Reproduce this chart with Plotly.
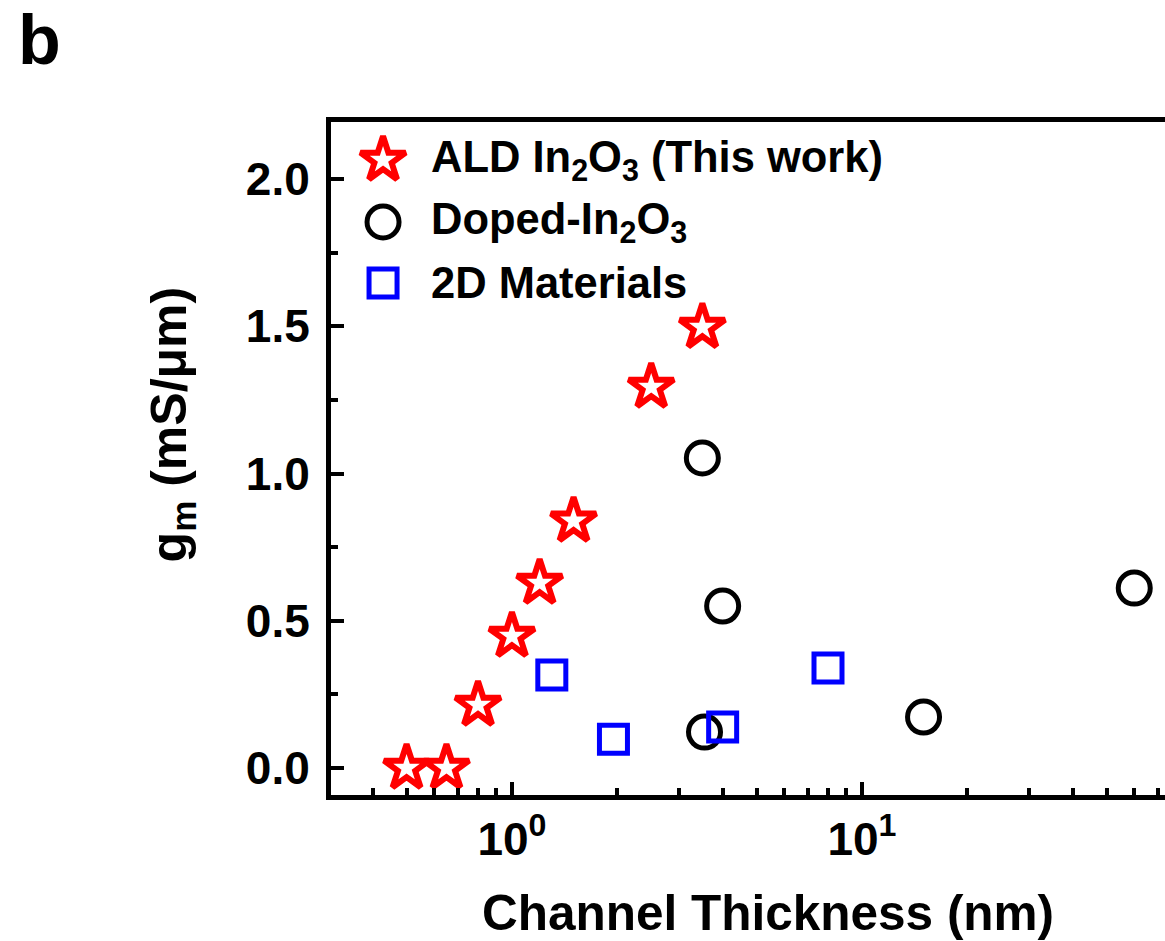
import plotly.graph_objects as go

# ---- data ----
ald_x = [0.5, 0.65, 0.8, 1.0, 1.2, 1.5, 2.5, 3.5]
ald_y = [0.0, 0.0, 0.214, 0.448, 0.628, 0.839, 1.294, 1.497]

doped_x = [3.5, 4.0, 3.55, 15.0, 60.0]
doped_y = [1.053, 0.55, 0.122, 0.173, 0.611]

mat2d_x = [1.3, 1.95, 4.0, 8.0]
mat2d_y = [0.316, 0.098, 0.139, 0.34]

series_names = ["ALD In<sub>2</sub>O<sub>3</sub> (This work)",
                "Doped-In<sub>2</sub>O<sub>3</sub>",
                "2D Materials"]

x_tickvals = [1, 10]
x_ticktext = ["10<sup>0</sup>", "10<sup>1</sup>"]
x_minor_vals = [0.3, 0.4, 0.5, 0.6, 0.7, 0.8, 0.9,
                2, 3, 4, 5, 6, 7, 8, 9,
                20, 30, 40, 50, 60, 70]

FONT = "Liberation Sans, Arial, sans-serif"
RED = "#FF0000"
BLACK = "#000000"
BLUE = "#0000FF"

styles = [
    dict(symbol="star-open", size=34, color=RED, line=dict(color=RED, width=6)),
    dict(symbol="circle-open", size=32, color=BLACK, line=dict(color=BLACK, width=5)),
    dict(symbol="square-open", size=28, color=BLUE, line=dict(color=BLUE, width=5)),
]

fig = go.Figure()
for (xs, ys), name, st in zip([(ald_x, ald_y), (doped_x, doped_y), (mat2d_x, mat2d_y)],
                              series_names, styles):
    fig.add_trace(go.Scatter(x=xs, y=ys, mode="markers", name=name,
                             marker=st, showlegend=False, cliponaxis=False))

# custom legend (markers on an overlay axis in [0,1] units, text as annotations)
leg_x = 0.0624
leg_text_x = 0.117
leg_y = [0.9435, 0.8514, 0.7608]
for name, st, yy in zip(series_names, styles, leg_y):
    fig.add_trace(go.Scatter(x=[leg_x], y=[yy], mode="markers", marker=st,
                             xaxis="x2", yaxis="y2", showlegend=False,
                             hoverinfo="skip", cliponaxis=False))
    fig.add_annotation(x=leg_text_x, y=yy, xref="paper", yref="paper",
                       text=name, showarrow=False, xanchor="left", yanchor="middle",
                       font=dict(family=FONT, size=43.5, color="black", weight="bold"))

# x-axis title
fig.add_annotation(x=0.524, y=-0.175, xref="paper", yref="paper",
                   text="Channel Thickness (nm)", showarrow=False,
                   xanchor="center", yanchor="middle",
                   font=dict(family=FONT, size=49.5, color="black", weight="bold"))
# y-axis title
fig.add_annotation(x=-0.19, y=0.55, xref="paper", yref="paper",
                   text="g<sub>m</sub> (mS/\u03bcm)", showarrow=False, textangle=-90,
                   xanchor="center", yanchor="middle",
                   font=dict(family=FONT, size=50, color="black", weight="bold"))
# panel label
fig.add_annotation(x=-0.3495, y=1.1813, xref="paper", yref="paper",
                   text="b", showarrow=False, xanchor="center", yanchor="top",
                   borderpad=0,
                   font=dict(family=FONT, size=70, color="black", weight="bold"))

fig.update_layout(
    width=1165, height=941,
    margin=dict(l=331, r=0, t=122, b=146),
    paper_bgcolor="white", plot_bgcolor="white",
    xaxis=dict(type="log", range=[-0.517, 1.866],
               tickmode="array", tickvals=x_tickvals, ticktext=x_ticktext,
               ticks="inside", ticklen=13, tickwidth=4, tickcolor="black",
               showline=True, linewidth=5, linecolor="black", mirror=True,
               showgrid=False, zeroline=False,
               tickfont=dict(family=FONT, size=46, color="black", weight="bold"),
               minor=dict(tickmode="array", tickvals=x_minor_vals, ticks="inside",
                          ticklen=7, tickwidth=4, tickcolor="black", showgrid=False)),
    yaxis=dict(range=[-0.0917, 2.194], tick0=0, dtick=0.5, tickformat=".1f",
               ticks="inside", ticklen=13, tickwidth=4, tickcolor="black",
               showline=True, linewidth=5, linecolor="black", mirror=False,
               showgrid=False, zeroline=False, ticklabelstandoff=7,
               tickfont=dict(family=FONT, size=46, color="black", weight="bold"),
               minor=dict(dtick=0.25, tick0=0, ticks="inside", ticklen=7,
                          tickwidth=4, tickcolor="black", showgrid=False)),
    xaxis2=dict(overlaying="x", range=[0, 1], visible=False, fixedrange=True),
    yaxis2=dict(overlaying="y", range=[0, 1], visible=False, fixedrange=True),
)

fig.write_html("out.html", config={"displayModeBar": False},
               post_script="document.body.style.margin='0';document.body.style.overflow='hidden';")
